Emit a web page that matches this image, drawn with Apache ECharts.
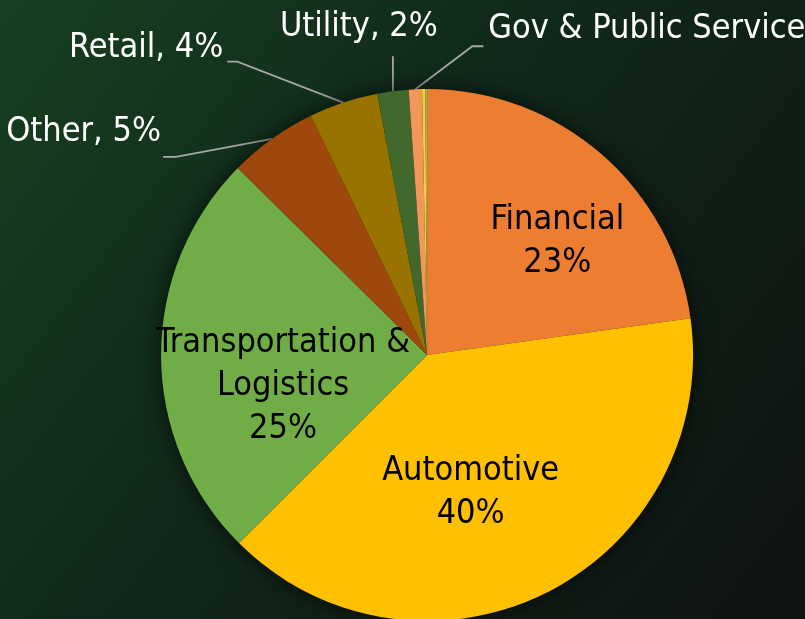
<!DOCTYPE html>
<html>
<head>
<meta charset="utf-8">
<script src="https://cdn.jsdelivr.net/npm/echarts@6/dist/echarts.min.js"></script>
<style>
html, body { margin: 0; padding: 0; }
#chart { width: 805px; height: 619px; }
</style>
</head>
<body>
<div id="chart"></div>
<script>
// 数据
var categories = ['Financial', 'Automotive', 'Transportation &\nLogistics', 'Other', 'Retail', 'Utility', 'Gov & Public Service', '', ''];
var shares = [22.8, 39.7, 24.9, 5.4, 4.2, 1.9, 0.8, 0.2, 0.1];
// 标签方式: inside / outside / none
var labelKinds = ['inside', 'inside', 'inside', 'outside', 'outside', 'outside', 'outside', 'none', 'none'];

// 样式
var sliceColors = ['#ED7D31', '#FFC000', '#70AD47', '#9E480E', '#997300', '#43682B', '#F1975A', '#FFCD33', '#8CC168'];
var labelFont = "'DejaVu Sans Condensed', 'Liberation Sans Narrow', 'Roboto', sans-serif";
var insideShift = { 0: [41, -11], 1: [-17, 16], 2: [-8, 31] };
// 引导线: 拐点 / 末端 / 文字 (相对扇区边缘点)
var leaders = {
    3: { elbow: [-96, 18], end: [-109, 18], text: [-2, -25], align: 'right' },
    4: { elbow: [-106, -41], end: [-116, -41], text: [-4, -13], align: 'right' },
    5: { elbow: [0, -35], end: [0, -35], text: [-34, -29], align: 'center' },
    6: { elbow: [57, -43], end: [68, -43], text: [5, -17], align: 'left' }
};

var pieCenter = ['53.05%', '57.35%'];
var pieRadius = 266;

window.onload = function () {
    var chart = echarts.init(document.getElementById('chart'));

    var total = 0;
    var pieData = [];
    for (var i = 0; i < shares.length; i++) {
        total += shares[i];
        var item = { name: categories[i], value: shares[i], itemStyle: { color: sliceColors[i] } };
        if (labelKinds[i] === 'inside') {
            item.label = {
                position: 'inside', color: '#000',
                formatter: function (p) { return p.name + '\n' + Math.round(p.percent) + '%'; }
            };
            item.labelLine = { show: false };
        } else if (labelKinds[i] === 'outside') {
            item.label = {
                position: 'outside', color: '#fff',
                formatter: function (p) { return p.name + ', ' + Math.round(p.percent) + '%'; }
            };
            item.labelLine = { show: true };
        } else {
            item.label = { show: false };
            item.labelLine = { show: false };
        }
        pieData.push(item);
    }

    var option = {
        animation: false,
        backgroundColor: {
            type: 'linear', x: 0, y: 0, x2: 1, y2: 1,
            colorStops: [
                { offset: 0, color: '#183f20' },
                { offset: 0.45, color: '#10281a' },
                { offset: 1, color: '#0f1210' }
            ]
        },
        series: [
            {
                // 阴影底盘
                type: 'pie',
                silent: true,
                center: pieCenter,
                radius: pieRadius,
                data: [{ value: total }],
                itemStyle: { color: '#0c160e', shadowBlur: 22, shadowColor: 'rgba(0,0,0,0.7)' },
                label: { show: false },
                labelLine: { show: false }
            },
            {
                type: 'pie',
                center: pieCenter,
                radius: pieRadius,
                startAngle: 90,
                clockwise: true,
                avoidLabelOverlap: false,
                data: pieData,
                label: {
                    fontFamily: labelFont,
                    fontSize: 34,
                    lineHeight: 43,
                    overflow: 'none'
                },
                labelLine: {
                    lineStyle: { color: '#a6a6a6', width: 1.8 }
                },
                labelLayout: function (params) {
                    var idx = params.dataIndex;
                    if (insideShift[idx]) {
                        return { dx: insideShift[idx][0], dy: insideShift[idx][1] };
                    }
                    var ld = leaders[idx];
                    if (ld && params.labelLinePoints) {
                        var s = params.labelLinePoints[0];
                        var e = [s[0] + ld.end[0], s[1] + ld.end[1]];
                        return {
                            x: e[0] + ld.text[0],
                            y: e[1] + ld.text[1],
                            align: ld.align,
                            verticalAlign: 'middle',
                            labelLinePoints: [
                                [s[0], s[1]],
                                [s[0] + ld.elbow[0], s[1] + ld.elbow[1]],
                                e
                            ]
                        };
                    }
                    return {};
                }
            }
        ]
    };

    chart.setOption(option);
};
</script>
</body>
</html>
